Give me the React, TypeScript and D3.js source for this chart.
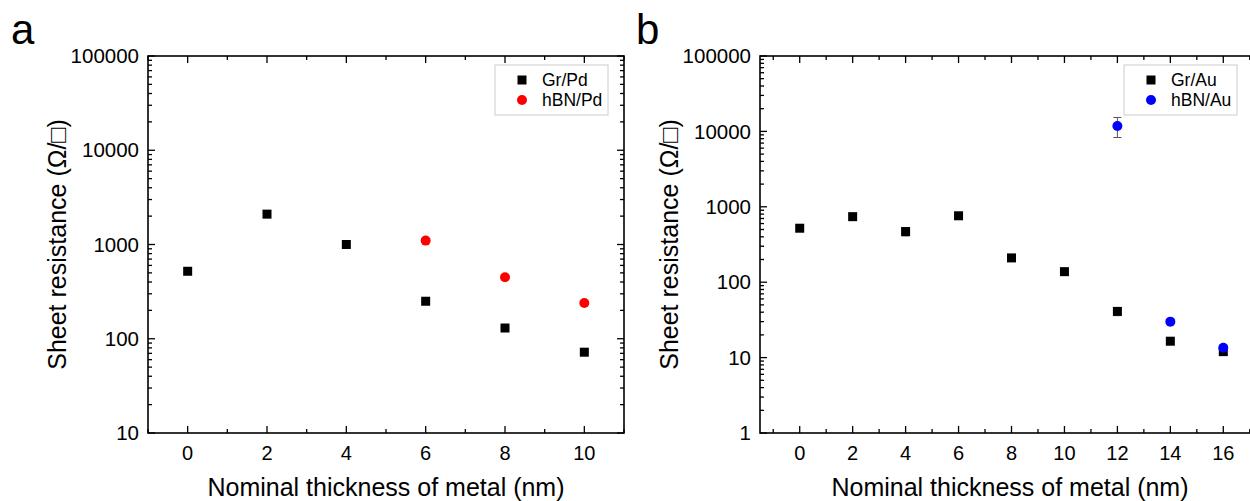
import React, { useEffect, useRef } from 'react';
import * as d3 from 'd3';

// panel a: Pd
const thickPd = [0, 2, 4, 6, 8, 10];
const grPd = [520, 2100, 1000, 250, 130, 72];
const thickHbnPd = [6, 8, 10];
const hbnPd = [1100, 450, 240];

// panel b: Au
const thickAu = [0, 2, 4, 6, 8, 10, 12, 14, 16];
const grAu = [520, 740, 470, 760, 210, 138, 41, 16.5, 12];
const grAuErr = [0, 0, 60, 0, 0, 0, 5, 0, 1];
const thickHbnAu = [12, 14, 16];
const hbnAu = [11800, 30, 13.5];
const hbnAuErr = [3500, 0, 1];

const xTicksA = [0, 2, 4, 6, 8, 10];
const xTicksB = [0, 2, 4, 6, 8, 10, 12, 14, 16];
const yTicksA = [10, 100, 1000, 10000, 100000];
const yTicksB = [1, 10, 100, 1000, 10000, 100000];

type Series = { name: string; xs: number[]; ys: number[]; err?: number[]; shape: 'square' | 'circle'; color: string };

const App = () => {
  const svgRef = useRef<SVGSVGElement>(null);

  useEffect(() => {
    const svg = d3.select(svgRef.current);
    svg.selectAll('*').remove();
    const font = 'Liberation Sans, Arial, sans-serif';

    const drawPanel = (opts: {
      left: number; right: number; top: number; bottom: number;
      xDom: [number, number]; yDom: [number, number];
      xTicks: number[]; xMinor: number[]; yTicks: number[];
      series: Series[]; letter: string; letterX: number;
      legendX: number; titleX: number;
    }) => {
      const x = d3.scaleLinear().domain(opts.xDom).range([opts.left, opts.right]);
      const y = d3.scaleLog().domain(opts.yDom).range([opts.bottom, opts.top]);
      const g = svg.append('g');

      // minor log ticks
      const yMinor: number[] = [];
      for (let p = opts.yDom[0]; p < opts.yDom[1]; p *= 10) {
        for (let k = 2; k <= 9; k++) yMinor.push(p * k);
      }

      const frame = g.append('g').attr('stroke', '#000').attr('fill', 'none');
      frame.append('rect')
        .attr('x', opts.left).attr('y', opts.top)
        .attr('width', opts.right - opts.left).attr('height', opts.bottom - opts.top)
        .attr('stroke-width', 1.6);

      const major = 7, minor = 4;
      opts.xTicks.forEach(t => {
        frame.append('line').attr('x1', x(t)).attr('x2', x(t)).attr('y1', opts.bottom).attr('y2', opts.bottom - major).attr('stroke-width', 1.3);
        frame.append('line').attr('x1', x(t)).attr('x2', x(t)).attr('y1', opts.top).attr('y2', opts.top + major).attr('stroke-width', 1.3);
      });
      opts.xMinor.forEach(t => {
        frame.append('line').attr('x1', x(t)).attr('x2', x(t)).attr('y1', opts.bottom).attr('y2', opts.bottom - minor).attr('stroke-width', 1.3);
        frame.append('line').attr('x1', x(t)).attr('x2', x(t)).attr('y1', opts.top).attr('y2', opts.top + minor).attr('stroke-width', 1.3);
      });
      opts.yTicks.forEach(t => {
        frame.append('line').attr('x1', opts.left).attr('x2', opts.left + major).attr('y1', y(t)).attr('y2', y(t)).attr('stroke-width', 1.3);
        frame.append('line').attr('x1', opts.right).attr('x2', opts.right - major).attr('y1', y(t)).attr('y2', y(t)).attr('stroke-width', 1.3);
      });
      yMinor.forEach(t => {
        frame.append('line').attr('x1', opts.left).attr('x2', opts.left + minor).attr('y1', y(t)).attr('y2', y(t)).attr('stroke-width', 1.3);
        frame.append('line').attr('x1', opts.right).attr('x2', opts.right - minor).attr('y1', y(t)).attr('y2', y(t)).attr('stroke-width', 1.3);
      });

      // tick labels
      g.append('g').selectAll('text').data(opts.xTicks).enter().append('text')
        .attr('x', d => x(d)).attr('y', opts.bottom + 27)
        .attr('text-anchor', 'middle').attr('font-family', font).attr('font-size', 20)
        .text(d => String(d));
      g.append('g').selectAll('text').data(opts.yTicks).enter().append('text')
        .attr('x', opts.left - 9).attr('y', d => y(d)).attr('dy', '0.35em')
        .attr('text-anchor', 'end').attr('font-family', font).attr('font-size', 20.5)
        .text(d => String(d));

      // axis titles
      g.append('text')
        .attr('x', opts.titleX).attr('y', 496)
        .attr('text-anchor', 'middle').attr('font-family', font).attr('font-size', 25)
        .text('Nominal thickness of metal (nm)');
      g.append('text')
        .attr('transform', `translate(${opts.left - 82},${(opts.top + opts.bottom) / 2}) rotate(-90)`)
        .attr('text-anchor', 'middle').attr('font-family', font).attr('font-size', 25)
        .text('Sheet resistance (Ω/□)');

      g.append('text')
        .attr('x', opts.letterX).attr('y', 44)
        .attr('font-family', font).attr('font-size', 42)
        .text(opts.letter);

      // data
      opts.series.forEach(s => {
        const sg = g.append('g');
        if (s.err) {
          s.xs.forEach((xv, i) => {
            const e = s.err![i];
            if (!e) return;
            const y1 = y(s.ys[i] + e), y2 = y(s.ys[i] - e);
            sg.append('line').attr('x1', x(xv)).attr('x2', x(xv)).attr('y1', y1).attr('y2', y2).attr('stroke', '#555').attr('stroke-width', 1);
            sg.append('line').attr('x1', x(xv) - 4).attr('x2', x(xv) + 4).attr('y1', y1).attr('y2', y1).attr('stroke', '#555').attr('stroke-width', 1);
            sg.append('line').attr('x1', x(xv) - 4).attr('x2', x(xv) + 4).attr('y1', y2).attr('y2', y2).attr('stroke', '#555').attr('stroke-width', 1);
          });
        }
        s.xs.forEach((xv, i) => {
          if (s.shape === 'square') {
            sg.append('rect').attr('x', x(xv) - 4.5).attr('y', y(s.ys[i]) - 4.5).attr('width', 9).attr('height', 9).attr('fill', s.color);
          } else {
            sg.append('circle').attr('cx', x(xv)).attr('cy', y(s.ys[i])).attr('r', 5).attr('fill', s.color);
          }
        });
      });

      // legend
      const lg = g.append('g').attr('transform', `translate(${opts.legendX},65)`);
      lg.append('rect').attr('x', 0).attr('y', 0).attr('width', 113).attr('height', 50)
        .attr('fill', '#fff').attr('stroke', '#ccc').attr('stroke-width', 1);
      opts.series.forEach((s, i) => {
        const cy = 15 + i * 20;
        if (s.shape === 'square') {
          lg.append('rect').attr('x', 27 - 4.5).attr('y', cy - 4.5).attr('width', 9).attr('height', 9).attr('fill', s.color);
        } else {
          lg.append('circle').attr('cx', 27).attr('cy', cy).attr('r', 5).attr('fill', s.color);
        }
        lg.append('text').attr('x', 47).attr('y', cy).attr('dy', '0.35em')
          .attr('font-family', font).attr('font-size', 17.5).text(s.name);
      });
    };

    drawPanel({
      left: 148, right: 624, top: 56, bottom: 433,
      xDom: [-1, 11], yDom: [10, 100000],
      xTicks: xTicksA, xMinor: [-1, 1, 3, 5, 7, 9, 11], yTicks: yTicksA,
      series: [
        { name: 'Gr/Pd', xs: thickPd, ys: grPd, shape: 'square', color: '#000' },
        { name: 'hBN/Pd', xs: thickHbnPd, ys: hbnPd, shape: 'circle', color: '#ff0000' },
      ],
      letter: 'a', letterX: 11, legendX: 495, titleX: 386,
    });

    drawPanel({
      left: 760, right: 1263, top: 56, bottom: 433,
      xDom: [-1.5, 17.5], yDom: [1, 100000],
      xTicks: xTicksB, xMinor: [-1, 1, 3, 5, 7, 9, 11, 13, 15, 17], yTicks: yTicksB,
      series: [
        { name: 'Gr/Au', xs: thickAu, ys: grAu, err: grAuErr, shape: 'square', color: '#000' },
        { name: 'hBN/Au', xs: thickHbnAu, ys: hbnAu, err: hbnAuErr, shape: 'circle', color: '#0000ff' },
      ],
      letter: 'b', letterX: 636, legendX: 1124, titleX: 1010,
    });
  }, []);

  return (
    <div style={{ position: 'absolute', left: 0, top: 0 }}>
      <svg ref={svgRef} width={1250} height={501} style={{ display: 'block', background: '#fff' }} />
    </div>
  );
};

export default App;
